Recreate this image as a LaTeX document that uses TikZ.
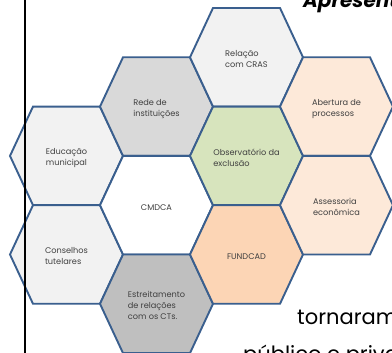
\documentclass[tikz,border=0pt]{standalone}
\usepackage{fontspec}
\newfontfamily\hexfont{Poppins}
\definecolor{hexline}{HTML}{3A5F8E}
\definecolor{txtgray}{HTML}{404040}
\definecolor{cLight}{HTML}{F2F2F2}
\definecolor{cMid}{HTML}{D9D9D9}
\definecolor{cDark}{HTML}{BFBFBF}
\definecolor{cGreen}{HTML}{D7E4BD}
\definecolor{cPeach}{HTML}{FDE9D9}
\definecolor{cOrange}{HTML}{FCD5B5}
\newcommand\hexcell[5]{%
  \begin{scope}[shift={(#2,#3)}]
    \filldraw[hexborder,fill=#4] (-56.5,0) -- (-33.5,-49.3) -- (33.5,-49.3) -- (56.5,0) -- (33.5,49.3) -- (-33.5,49.3) -- cycle;
  \end{scope}
  \node[hextext] (#1) at (#2,#3+2) {#5};}
\begin{document}
\begin{tikzpicture}[x=1pt,y=-1pt,
  hexborder/.style={draw=hexline,line width=1.9pt,line join=miter},
  hextext/.style={align=left,text=txtgray,font=\hexfont\fontsize{8.2}{11}\selectfont,inner sep=0pt},
  slidetext/.style={anchor=base west,inner sep=0pt,text=black}]
\useasboundingbox (0,0) rectangle (392,353);
\clip (0,0) rectangle (392,353);
\fill[white] (0,0) rectangle (392,353);
% column A
\hexcell{edu}{66.5}{155.9}{cLight}{Educação\\municipal}
\hexcell{cons}{66.5}{254.5}{cLight}{Conselhos\\tutelares}
% column B
\hexcell{rede}{156.5}{106.6}{cMid}{Rede de\\instituições}
\hexcell{cmdca}{156.5}{205.2}{white}{CMDCA}
\hexcell{estr}{156.5}{303.8}{cDark}{Estreitamento\\de relações\\com os CTs.}
% column C
\hexcell{cras}{246.5}{57.3}{cLight}{Relação\\com CRAS}
\hexcell{obs}{246.5}{155.9}{cGreen}{Observatório da\\exclusão}
\hexcell{fund}{246.5}{254.5}{cOrange}{FUNDCAD}
% column D
\hexcell{abert}{336.5}{106.6}{cPeach}{Abertura de\\processos}
\hexcell{assess}{336.5}{205.2}{cPeach}{Assessoria\\econômica}
% slide elements
\coordinate (lineTop) at (25,0);
\coordinate (lineBot) at (25,353);
\draw[black,line width=2.3pt] (lineTop) -- (lineBot);
\node[slidetext,font=\hexfont\bfseries\itshape\fontsize{20}{24}\selectfont] (title) at (303,8) {Apresentação};
\node[slidetext,font=\hexfont\fontsize{21}{26}\selectfont] (t1) at (297,325) {tornaram};
\node[slidetext,font=\hexfont\fontsize{21}{26}\selectfont] (t2) at (243,362) {público e privado};
\end{tikzpicture}
\end{document}
